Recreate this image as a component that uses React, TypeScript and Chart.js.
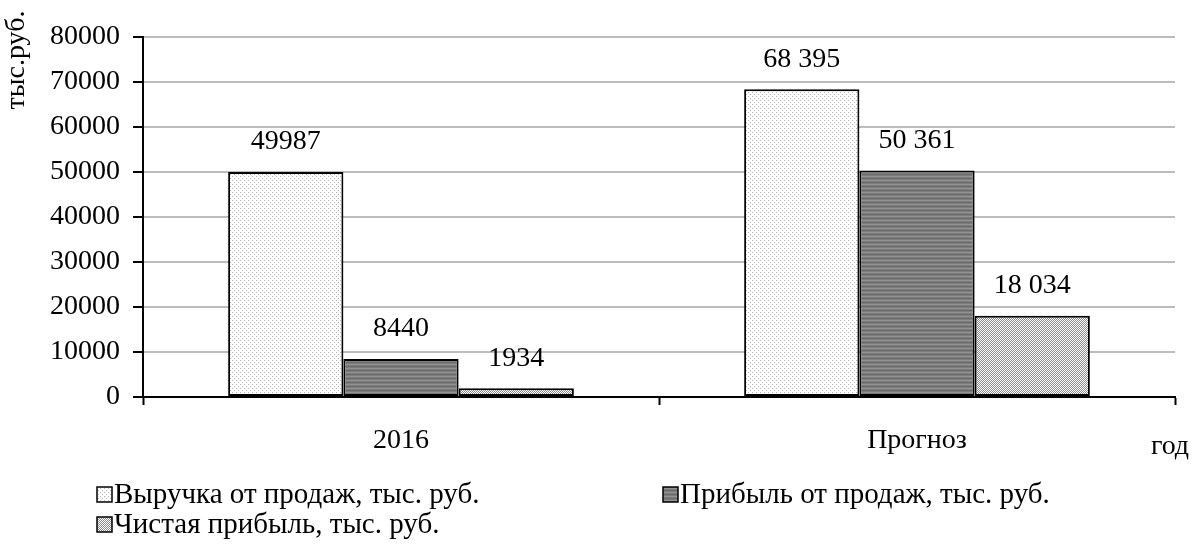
import React, { useEffect, useRef } from "react";
import { Chart, registerables } from "chart.js";

Chart.register(...registerables);

const categories = ["2016", "Прогноз"];
const seriesNames = [
  "Выручка от продаж, тыс. руб.",
  "Прибыль от продаж, тыс. руб.",
  "Чистая прибыль, тыс. руб.",
];
const revenue = [49987, 68395];
const salesProfit = [8440, 50361];
const netProfit = [1934, 18034];
const valueLabels = [
  ["49987", "68 395"],
  ["8440", "50 361"],
  ["1934", "18 034"],
];
const yTitle = "тыс.руб.";
const xTitle = "год";

const FONT = '"Liberation Serif", "Times New Roman", serif';

function makePattern(kind: number): CanvasPattern | string {
  const c = document.createElement("canvas");
  c.width = 4;
  c.height = 4;
  const g = c.getContext("2d")!;
  if (kind === 0) {
    g.fillStyle = "#ffffff";
    g.fillRect(0, 0, 4, 4);
    g.fillStyle = "#b4b4b4";
    g.fillRect(0, 0, 1, 1);
    g.fillRect(2, 2, 1, 1);
  } else if (kind === 1) {
    g.fillStyle = "#7c7c7c";
    g.fillRect(0, 0, 4, 4);
    g.fillStyle = "#929292";
    g.fillRect(0, 0, 4, 1);
    g.fillStyle = "#6c6c6c";
    g.fillRect(0, 2, 4, 1);
  } else {
    g.fillStyle = "#ffffff";
    g.fillRect(0, 0, 4, 4);
    g.fillStyle = "#8a8a8a";
    for (let i = 0; i < 4; i++) {
      g.fillRect(i, 3 - i, 1, 1);
      g.fillRect((i + 2) % 4, 3 - i, 1, 1);
    }
  }
  return g.createPattern(c, "repeat") || "#ccc";
}

function drawText(
  ctx: CanvasRenderingContext2D,
  text: string,
  x: number,
  y: number,
  size: number,
  align: CanvasTextAlign,
  sx: number = 1,
  rot: number = 0
) {
  ctx.save();
  ctx.translate(x, y);
  if (rot) ctx.rotate(rot);
  ctx.scale(sx, 1);
  ctx.font = `${size}px ${FONT}`;
  ctx.fillStyle = "#000";
  ctx.textAlign = align;
  ctx.textBaseline = "middle";
  ctx.fillText(text, 0, 0);
  ctx.restore();
}

export default function App() {
  const ref = useRef<HTMLCanvasElement>(null);
  useEffect(() => {
    const canvas = ref.current!;
    const patterns = [makePattern(0), makePattern(1), makePattern(2)];
    const values = [revenue, salesProfit, netProfit];

    const textPlugin = {
      id: "texts",
      afterDraw(chart: any) {
        const ctx: CanvasRenderingContext2D = chart.ctx;
        const yScale = chart.scales.y;
        const xScale = chart.scales.x;
        yScale.ticks.forEach((t: any, i: number) => {
          const py = yScale.getPixelForTick(i);
          drawText(ctx, String(t.value), 120, py, 28, "right");
        });
        categories.forEach((c, i) => {
          const px = xScale.getPixelForTick(i);
          drawText(ctx, c, px, 441, 28, "center");
        });
        values.forEach((_, di) => {
          const meta = chart.getDatasetMeta(di);
          meta.data.forEach((bar: any, i: number) => {
            drawText(ctx, valueLabels[di][i], bar.x, bar.y - 30, 28, "center");
          });
        });
        drawText(ctx, yTitle, 17, 60, 28, "center", 1, -Math.PI / 2);
        drawText(ctx, xTitle, 1170, 447, 28, "center");
        const items = [
          { x: 97, y: 495 },
          { x: 663, y: 495 },
          { x: 97, y: 525 },
        ];
        items.forEach((it, i) => {
          ctx.save();
          ctx.fillStyle = patterns[i] as any;
          ctx.fillRect(it.x, it.y - 8, 15, 15);
          ctx.strokeStyle = "#000";
          ctx.lineWidth = 1.5;
          ctx.strokeRect(it.x, it.y - 8, 15, 15);
          ctx.restore();
          drawText(ctx, seriesNames[i], it.x + 17, it.y, 29, "left");
        });
      },
    };

    const chart = new Chart(canvas, {
      type: "bar",
      data: {
        labels: categories,
        datasets: values.map((v, i) => ({
          label: seriesNames[i],
          data: v,
          backgroundColor: patterns[i] as any,
          borderColor: "#000",
          borderWidth: 2,
          borderSkipped: false,
          barPercentage: 1,
          categoryPercentage: 0.67,
        })),
      },
      options: {
        animation: false,
        responsive: true,
        maintainAspectRatio: false,
        layout: { padding: { top: 37, left: 0, right: 18, bottom: 0 } },
        plugins: {
          legend: { display: false },
          tooltip: { enabled: false },
          title: { display: false },
        },
        scales: {
          x: {
            offset: true,
            afterFit(scale: any) {
              scale.height = 149;
            },
            grid: {
              offset: true,
              drawOnChartArea: false,
              drawTicks: true,
              tickLength: 8,
              tickWidth: 2,
              tickColor: "#000",
            },
            border: { color: "#000", width: 2 },
            ticks: { display: false },
          },
          y: {
            min: 0,
            max: 80000,
            afterFit(scale: any) {
              scale.width = 143;
            },
            ticks: { display: false, stepSize: 10000 },
            grid: {
              color: "#bdbdbd",
              lineWidth: 2,
              tickColor: "#000",
              tickLength: 10,
              tickWidth: 2,
            },
            border: { color: "#000", width: 2 },
          },
        },
      },
      plugins: [textPlugin],
    });
    return () => chart.destroy();
  }, []);

  return (
    <div style={{ position: "fixed", left: 0, top: 0, width: 1193, height: 546, background: "#fff" }}>
      <canvas ref={ref} />
    </div>
  );
}
